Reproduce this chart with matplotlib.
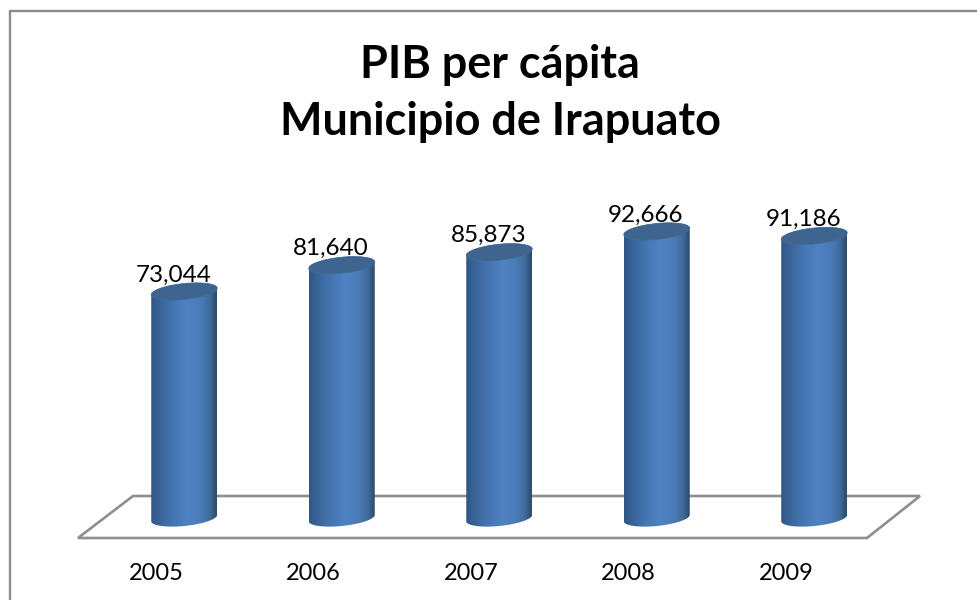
import numpy as np
import matplotlib
matplotlib.use("Agg")
import matplotlib.pyplot as plt
from matplotlib.colors import LinearSegmentedColormap
from matplotlib.patches import Polygon, PathPatch, Rectangle
from matplotlib.path import Path

years = ["2005", "2006", "2007", "2008", "2009"]
pib = [73044, 81640, 85873, 92666, 91186]
title_lines = ["PIB per cápita", "Municipio de Irapuato"]

W, H = 977, 600
plt.rcParams['font.family'] = ['Lato', 'DejaVu Sans']
fig = plt.figure(figsize=(W / 100, H / 100), dpi=100, facecolor="white")

# plot area: x -0.5..4.5 -> px 105.5..893 ; y 0 at px 515, 100000 at px 209
x0, x1, ytop, yzero, ybot = 105.5, 893.0, 209.0, 515.0, 560.0
px_x = 5 / (x1 - x0)
px_y = 100000 / (yzero - ytop)
ymin = -(ybot - yzero) * px_y
ax = fig.add_axes([x0 / W, 1 - ybot / H, (x1 - x0) / W, (ybot - ytop) / H])
ax.set_xlim(-0.5, 4.5)
ax.set_ylim(ymin, 100000)
ax.axis("off")

fig.add_artist(Rectangle((9.5 / W, -0.05), 1.1, 1.05 - 10.5 / H, transform=fig.transFigure,
                         fc="none", ec="#8c8c8c", lw=1.7))

fx = lambda p: -0.5 + (p - x0) * px_x
fy = lambda p: (yzero - p) * px_y
floor = [(78, 538), (133, 496), (920, 496), (867, 538)]
ax.add_patch(Polygon([(fx(a), fy(b)) for a, b in floor], closed=True, fc="white",
                     ec="#8e8e8e", lw=1.9, clip_on=False, zorder=1))

cmap = LinearSegmentedColormap.from_list("cyl", [
    (0.00, "#2f5686"), (0.10, "#376195"), (0.30, "#4373ae"), (0.55, "#4f82c4"),
    (0.75, "#4b7cb9"), (0.90, "#3f6a99"), (1.00, "#2d4969")])
grad = np.linspace(0, 1, 256).reshape(1, -1)

half_w = 33 * px_x
half_h = 8 * px_y
tilt = 3.2 * px_y
base = fy(518)
t = np.linspace(0, 2 * np.pi, 121)
tb = np.linspace(np.pi, 2 * np.pi, 60)
tt = np.linspace(0, np.pi, 60)

for i, v in enumerate(pib):
    xs = i + half_w * np.cos(t)
    bx = i + half_w * np.cos(tb)
    by = base + half_h * np.sin(tb) + tilt * np.cos(tb)
    ux = i + half_w * np.cos(tt)
    uy = v + half_h * np.sin(tt) + tilt * np.cos(tt)
    body = PathPatch(Path(np.column_stack([np.r_[bx, ux, bx[0]], np.r_[by, uy, by[0]]])),
                     fc="none", ec="none", transform=ax.transData)
    ax.add_patch(body)
    im = ax.imshow(grad, extent=[i - half_w, i + half_w, base - half_h * 1.5, v + half_h * 1.5],
                   aspect="auto", cmap=cmap, zorder=3, interpolation="bilinear")
    im.set_clip_path(body)
    ys = v + half_h * np.sin(t) + tilt * np.cos(t)
    ax.fill(xs, ys, fc="#3e648f", ec="#426c9b", lw=0.5, zorder=4, clip_on=False)
    ax.text(i - 11 * px_x, v + 6 * px_y, f"{v:,}", ha="center", va="bottom",
            fontsize=17.5, color="black", zorder=5, clip_on=False)
    ax.text(i - 28 * px_x, fy(574), years[i], ha="center", va="center",
            fontsize=17, color="black", clip_on=False)

ax.set_xlim(-0.5, 4.5)
ax.set_ylim(ymin, 100000)

fig.text(500 / W, 1 - 65 / H, title_lines[0], ha="center", va="center",
         fontsize=32.4, fontweight="bold", color="black")
fig.text(500 / W, 1 - 122 / H, title_lines[1], ha="center", va="center",
         fontsize=32.4, fontweight="bold", color="black")

fig.savefig("out.png", dpi=100, facecolor="white")
